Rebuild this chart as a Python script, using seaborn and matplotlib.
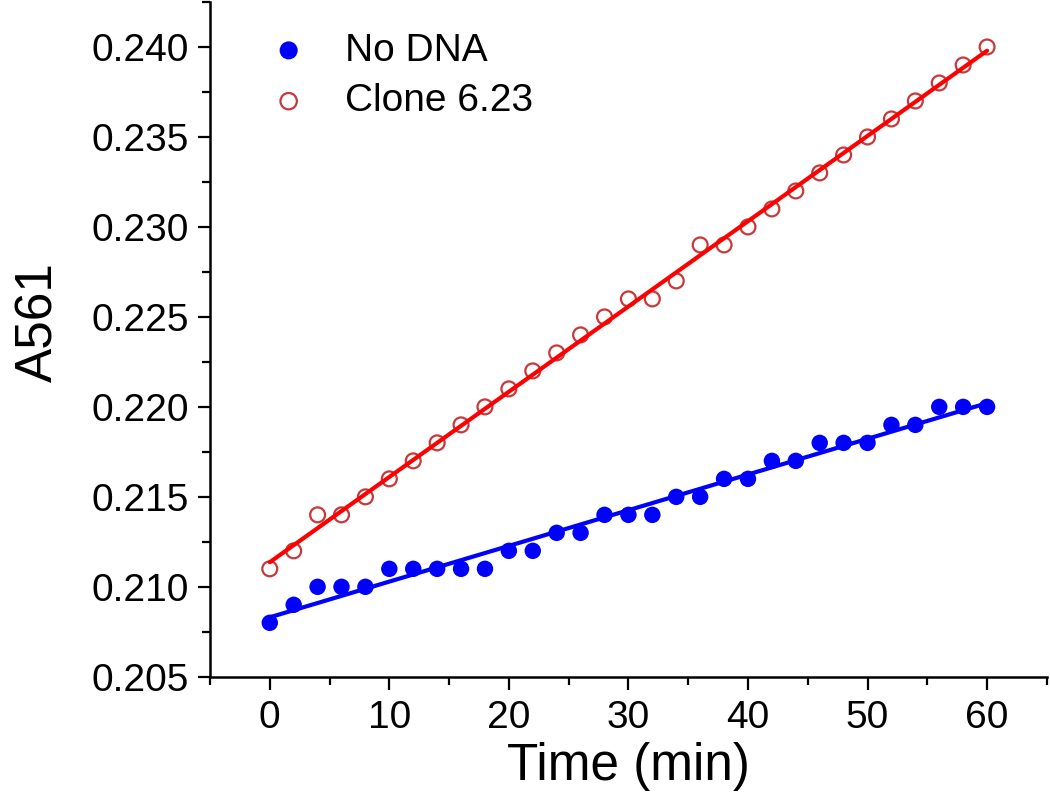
import numpy as np
import pandas as pd
import matplotlib
matplotlib.use("Agg")
import matplotlib.pyplot as plt
from matplotlib.ticker import MultipleLocator, FormatStrFormatter
import seaborn as sns

# datos
time_min = [0, 2, 4, 6, 8, 10, 12, 14, 16, 18, 20, 22, 24, 26, 28, 30,
            32, 34, 36, 38, 40, 42, 44, 46, 48, 50, 52, 54, 56, 58, 60]
no_dna = [0.208, 0.209, 0.210, 0.210, 0.210, 0.211, 0.211, 0.211, 0.211, 0.211,
          0.212, 0.212, 0.213, 0.213, 0.214, 0.214, 0.214, 0.215, 0.215, 0.216,
          0.216, 0.217, 0.217, 0.218, 0.218, 0.218, 0.219, 0.219, 0.220, 0.220, 0.220]
clone_623 = [0.211, 0.212, 0.214, 0.214, 0.215, 0.216, 0.217, 0.218, 0.219, 0.220,
             0.221, 0.222, 0.223, 0.224, 0.225, 0.226, 0.226, 0.227, 0.229, 0.229,
             0.230, 0.231, 0.232, 0.233, 0.234, 0.235, 0.236, 0.237, 0.238, 0.239, 0.240]

df = pd.DataFrame({"time": time_min, "no_dna": no_dna, "clone": clone_623})

sns.set_style("ticks")
plt.rcParams["font.family"] = ["Liberation Sans", "DejaVu Sans"]
plt.rcParams["text.color"] = "black"
plt.rcParams["axes.labelcolor"] = "black"
plt.rcParams["xtick.color"] = "black"
plt.rcParams["ytick.color"] = "black"
plt.rcParams["axes.edgecolor"] = "black"

fig = plt.figure(figsize=(10.5, 8), dpi=100)
ax = fig.add_axes([0.2, 0.154, 0.797, 0.8435])

# No DNA: puntos azules rellenos + ajuste lineal
sns.regplot(data=df, x="time", y="no_dna", ax=ax, ci=None, scatter=False,
            line_kws={"color": "#0000ff", "lw": 3})
ax.scatter(df["time"], df["no_dna"], s=140, color="#0000ff", edgecolors="none",
           label="No DNA", zorder=3)

# Clone 6.23: circulos abiertos rojos + ajuste lineal
ax.scatter(df["time"], df["clone"], s=115, facecolors="none", edgecolors="#c8383a",
           linewidths=1.6, label="Clone 6.23", zorder=3)
sns.regplot(data=df, x="time", y="clone", ax=ax, ci=None, scatter=False,
            line_kws={"color": "#ff0000", "lw": 3, "zorder": 4})

ax.set_xlim(-5, 65)
ax.set_ylim(0.205, 0.2425)
ax.xaxis.set_major_locator(MultipleLocator(10))
ax.xaxis.set_minor_locator(MultipleLocator(5))
ax.yaxis.set_major_locator(MultipleLocator(0.005))
ax.yaxis.set_minor_locator(MultipleLocator(0.0025))
ax.yaxis.set_major_formatter(FormatStrFormatter("%.3f"))

ax.tick_params(which="major", direction="out", length=9, width=1.6, labelsize=28)
ax.tick_params(which="minor", direction="out", length=5.5, width=1.6)
ax.tick_params(axis="x", which="major", pad=8)
ax.tick_params(axis="y", which="major", pad=6)

sns.despine(ax=ax)
for side in ["left", "bottom"]:
    ax.spines[side].set_linewidth(1.8)

ax.set_xlabel("Time (min)", fontsize=37, labelpad=4)
ax.set_ylabel("A561", fontsize=37)
ax.yaxis.set_label_coords(-0.175, 0.526)

ax.legend(loc="upper left", frameon=False, fontsize=28, handletextpad=0.45,
          borderaxespad=0.3, labelspacing=0.38, markerscale=1.1,
          bbox_to_anchor=(0.015, 0.995))

plt.savefig("out.png", dpi=100)
